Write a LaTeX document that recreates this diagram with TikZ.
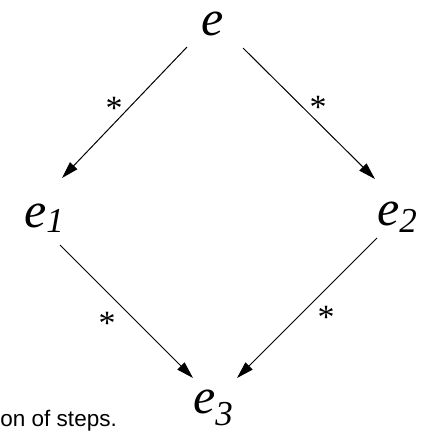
\documentclass[tikz,border=0pt]{standalone}
\usepackage{fontspec}
\setmainfont{Liberation Serif}
\newfontfamily\capfont{Liberation Sans}
\usetikzlibrary{arrows.meta,calc}
\tikzset{
  lbl/.style={inner sep=0pt, anchor=base, font=\fontsize{50}{50}\selectfont\itshape},
  star/.style={inner sep=0pt, anchor=base, font=\fontsize{34}{34}\selectfont},
  conn/.style={line width=1pt, -{Triangle[length=17pt,width=10pt]}},
  capt/.style={inner sep=0pt, anchor=base east, font=\fontsize{22.5}{22.5}\selectfont\capfont}
}
\newcommand{\sbx}[2]{\raisebox{#1}{\fontsize{35}{35}\selectfont #2}}
\begin{document}
\begin{tikzpicture}[x=1pt,y=-1pt]
\useasboundingbox (0,0) rectangle (428,431);
\node[lbl] (e) at (213,35) {e};
\node[lbl] (e1) at (44,227) {e\sbx{-5pt}{1}};
\node[lbl] (e2) at (397,225) {e\sbx{-7pt}{2}};
\node[lbl] (e3) at (213,413) {e\sbx{-12pt}{3}};
\node[star] (s1) at (114,119) {*};
\node[star] (s2) at (318,118) {*};
\node[star] (s3) at (107,334) {*};
\node[star] (s4) at (326,328) {*};
\draw[conn] ($(e.base)+(-26,12)$) -- ($(e1.base)+(18,-49)$);
\draw[conn] ($(e.base)+(30,13)$) -- ($(e2.base)+(-22,-46)$);
\draw[conn] ($(e1.base)+(16,18)$) -- ($(e3.base)+(-20,-35)$);
\draw[conn] ($(e2.base)+(-20,13)$) -- ($(e3.base)+(24,-35)$);
\node[capt] (cap) at (117,426) {on of steps.};
\end{tikzpicture}
\end{document}
